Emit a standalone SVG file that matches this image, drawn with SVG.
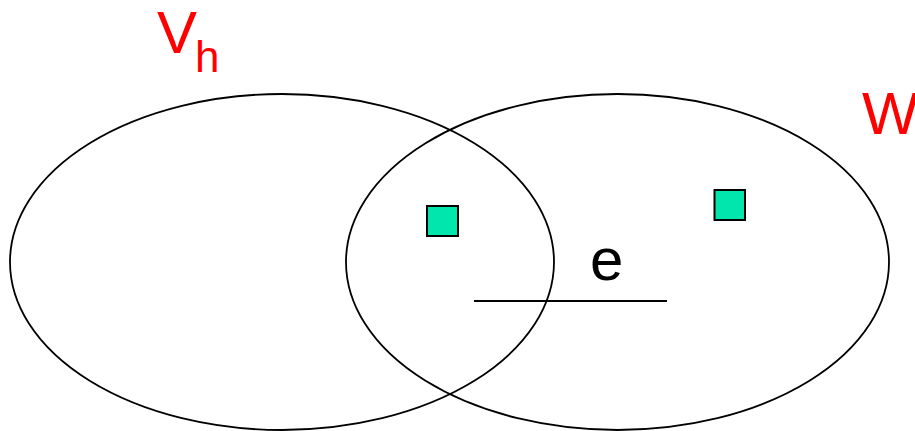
<svg xmlns="http://www.w3.org/2000/svg" width="915" height="431" viewBox="0 0 915 431">
<style>
.set{fill:none;stroke:#000;stroke-width:1.8}
.pt{fill:#00E6AC;stroke:#000;stroke-width:2}
.lbl{font-family:"Liberation Sans",Arial,sans-serif;fill:#FF0000}
</style>
<rect width="915" height="431" fill="#fff"/>
<g id="Vh">
<ellipse class="set" cx="282" cy="262" rx="272" ry="168"/>
<text class="lbl" x="157" y="53" font-size="60">V</text>
<text class="lbl" x="195" y="72" font-size="44">h</text>
</g>
<g id="W">
<ellipse class="set" cx="617.5" cy="262" rx="271.5" ry="168"/>
<text class="lbl" x="862" y="134" font-size="60">W</text>
</g>
<g id="p1"><rect class="pt" x="427" y="206" width="31" height="30"/></g>
<g id="p2"><rect class="pt" x="714.5" y="190" width="30.5" height="30"/></g>
<g id="connectors">
<line x1="474" y1="301" x2="667" y2="301" stroke="#000" stroke-width="2"/>
<text x="590" y="280" font-size="60" font-family="'Liberation Sans',Arial,sans-serif" fill="#000">e</text>
</g>
</svg>
